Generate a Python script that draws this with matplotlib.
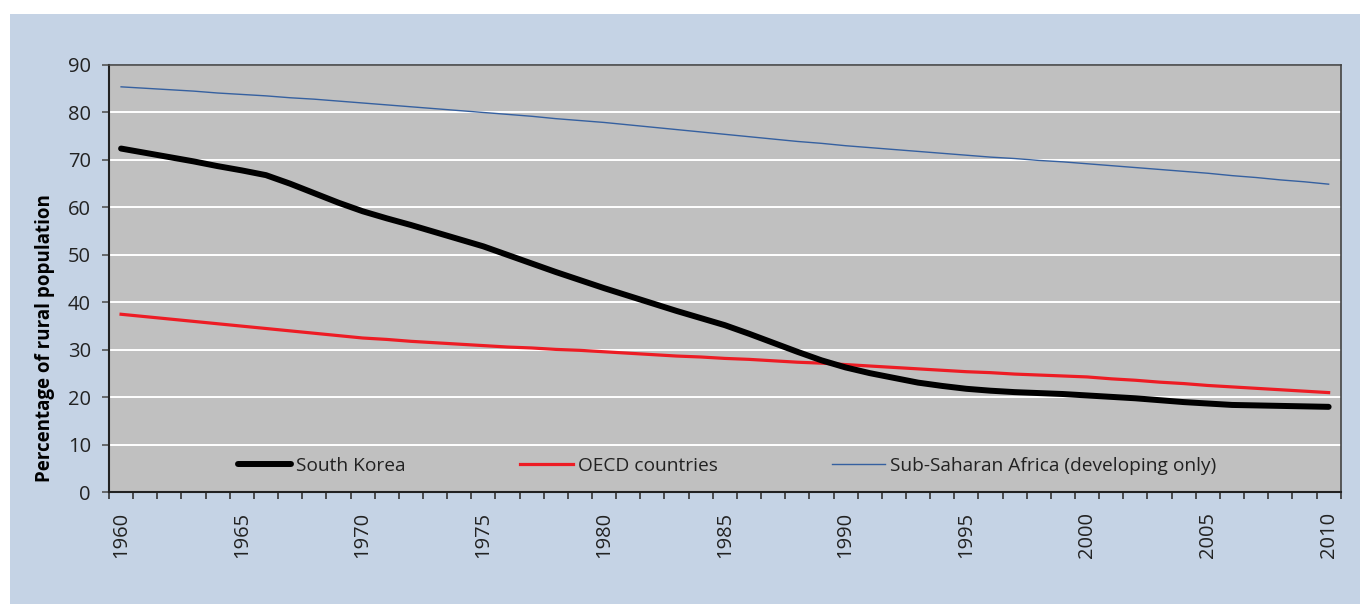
# Rural population share, South Korea vs OECD vs Sub-Saharan Africa

import matplotlib.pyplot as plt
from matplotlib.patches import Rectangle

years = list(range(1960, 2011))

south_korea = [72.4, 71.5, 70.6, 69.7, 68.7, 67.8, 66.8, 65.0, 63.0, 61.0,
               59.2, 57.7, 56.3, 54.8, 53.3, 51.8, 50.0, 48.2, 46.4, 44.7,
               43.0, 41.4, 39.8, 38.2, 36.7, 35.2, 33.4, 31.5, 29.6, 27.8,
               26.3, 25.1, 24.1, 23.1, 22.4, 21.8, 21.4, 21.1, 20.9, 20.7,
               20.4, 20.1, 19.8, 19.4, 19.0, 18.7, 18.4, 18.3, 18.2, 18.1,
               18.0]

oecd = [37.5, 37.0, 36.5, 36.0, 35.5, 35.0, 34.5, 34.0, 33.5, 33.0,
        32.5, 32.2, 31.8, 31.5, 31.2, 30.9, 30.6, 30.4, 30.1, 29.9,
        29.6, 29.3, 29.0, 28.7, 28.5, 28.2, 28.0, 27.7, 27.4, 27.2,
        26.9, 26.6, 26.3, 26.0, 25.7, 25.4, 25.2, 24.9, 24.7, 24.5,
        24.3, 23.9, 23.6, 23.2, 22.9, 22.5, 22.2, 21.9, 21.6, 21.3,
        21.0]

ssa = [85.4, 85.1, 84.8, 84.5, 84.1, 83.8, 83.5, 83.1, 82.8, 82.4,
       82.0, 81.6, 81.2, 80.8, 80.4, 80.0, 79.6, 79.2, 78.7, 78.3,
       77.9, 77.4, 76.9, 76.4, 75.9, 75.4, 74.9, 74.4, 73.9, 73.5,
       73.0, 72.6, 72.2, 71.8, 71.4, 71.0, 70.6, 70.3, 69.9, 69.6,
       69.2, 68.8, 68.4, 68.0, 67.6, 67.2, 66.7, 66.3, 65.8, 65.4,
       64.9]

plt.rcParams['font.family'] = ['Open Sans', 'DejaVu Sans']

fig = plt.figure(figsize=(13.6, 6.04), dpi=100, facecolor='white')
fig.patches.append(Rectangle((10 / 1360, 0), 1, 1 - 14 / 604, transform=fig.transFigure,
                             facecolor='#c5d3e5', edgecolor='none', zorder=-1))

ax = fig.add_axes([109 / 1360, 1 - 492.3 / 604, 1231.7 / 1360, 427.3 / 604])
ax.set_facecolor('#c0c0c0')

x = list(range(len(years)))
ax.plot(x, south_korea, color='black', lw=4.3, solid_capstyle='round', label='South Korea', zorder=4)
ax.plot(x, oecd, color='#ed1c24', lw=2.3, label='OECD countries', zorder=3)
ax.plot(x, ssa, color='#3560a0', lw=1.0, label='Sub-Saharan Africa (developing only)', zorder=3)

ax.set_xlim(-0.5, len(years) - 0.5)
ax.set_ylim(0, 90)
ax.set_yticks(range(0, 91, 10))
ax.yaxis.grid(True, color='white', lw=1.4)
ax.set_axisbelow(True)

# category axis: tick marks between categories, labels every 5 years
ax.set_xticks([i - 0.5 for i in range(len(years) + 1)], minor=True)
ax.set_xticks(x[::5])
ax.set_xticklabels([str(y) for y in years[::5]], rotation=90)
ax.tick_params(axis='x', which='major', length=0, pad=14)
ax.tick_params(axis='x', which='minor', length=5, width=1.2, color='#333333')
ax.tick_params(axis='y', length=5, width=1.2, color='#555555', pad=8)
ax.tick_params(labelsize=14.5, labelcolor='#222222')

for side in ['left', 'bottom']:
    ax.spines[side].set_color('#222222')
    ax.spines[side].set_linewidth(1.5)
for side in ['top', 'right']:
    ax.spines[side].set_color('#444444')
    ax.spines[side].set_linewidth(1.2)

ax.set_ylabel('Percentage of rural population', fontsize=13.5, fontweight='bold', color='black')
ax.yaxis.set_label_coords(-0.052, 0.361)
ax.yaxis.label.set_va('center')

ax.legend(loc='center left', bbox_to_anchor=((238 - 109) / 1231.7, (492.3 - 466) / 427.3),
          ncol=3, frameon=False, fontsize=13.8, handlelength=2.75, handletextpad=0.25,
          columnspacing=6.0, borderpad=0, borderaxespad=0, labelcolor='#222222')

plt.savefig('out.png', dpi=100, facecolor=fig.get_facecolor())
